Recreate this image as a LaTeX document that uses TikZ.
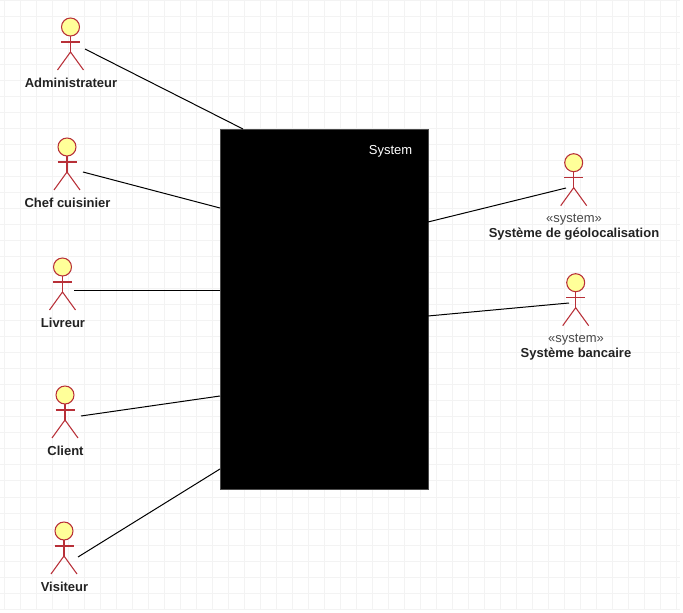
\documentclass[tikz,border=0pt]{standalone}
\usepackage{fontspec}
\setmainfont{Liberation Sans}
\usetikzlibrary{positioning}
\definecolor{actorRed}{RGB}{184, 48, 56}
\definecolor{actorFill}{RGB}{255, 255, 153}
\definecolor{gridGray}{RGB}{243, 243, 243}
\definecolor{labelDark}{RGB}{34, 34, 34}
\definecolor{stereoGray}{RGB}{72, 72, 72}
\tikzset{
    gridline/.style={gridGray, line width=0.75pt},
    link/.style={black, line width=0.75pt},
    actorline/.style={actorRed, line width=0.8pt},
    actorname/.style={font=\bfseries\fontsize{9.75}{11}\selectfont, text=labelDark, inner sep=0pt},
    stereotype/.style={font=\fontsize{9.75}{11}\selectfont, text=stereoGray, inner sep=0pt},
    systembox/.style={fill=black, draw=black!70, line width=0.5pt, inner sep=0pt, minimum width=156pt, minimum height=270pt},
    pics/actor/.style={code={
        \draw[actorline, fill=actorFill] (0,0) circle (9);
        \draw[actorline] (0,9)--(0,25);
        \draw[actorline] (-9.5,15)--(9.5,15);
        \draw[actorline] (-13,43)--(0,25)--(13,43);
    }}
}

\begin{document}
\begin{tikzpicture}[x=0.75pt, y=-0.75pt]
        \useasboundingbox (0,0) rectangle (683,613);
        
        % background grid
        \foreach \gx in {4,20,...,676} {\draw[gridline] (\gx,0)--(\gx,610);}
        \foreach \gy in {1,17,...,609} {\draw[gridline] (0,\gy)--(680,\gy);}
        
        % system
        \node[systembox] (system) at (324,309) {};
        \node[font=\fontsize{9.75}{11}\selectfont, text=white, inner sep=0pt] (systemname) at (390.5,151) {System};
        
        % actors on the left
        \pic at (70.5,27) {actor};
        \pic at (67,147) {actor};
        \pic at (62.5,267) {actor};
        \pic at (65,395) {actor};
        \pic at (64,531) {actor};
        \node[actorname] (admin) at (71,83) {Administrateur};
        \node[actorname] (chef) at (67.5,203) {Chef cuisinier};
        \node[actorname] (livreur) at (63,323) {Livreur};
        \node[actorname] (client) at (65.5,451) {Client};
        \node[actorname] (visiteur) at (64.5,587) {Visiteur};
        
        % actors on the right
        \pic at (573.7,162.7) {actor};
        \pic at (575.7,282.7) {actor};
        \node[stereotype] (geosys) at (574,220) {«system»};
        \node[actorname] (geo) at (574,234) {Système de géolocalisation};
        \node[stereotype] (banksys) at (576,340) {«system»};
        \node[actorname] (bank) at (576,354.5) {Système bancaire};
        
        % connector ends
        \coordinate (adminEnd) at (85,49);
        \coordinate (chefEnd) at (83,172);
        \coordinate (livreurEnd) at (74,291);
        \coordinate (clientEnd) at (81,416);
        \coordinate (visiteurEnd) at (78,557);
        \coordinate (geoEnd) at (566,188);
        \coordinate (bankEnd) at (569,303);
        \coordinate (sysAdmin) at (243,129);
        \coordinate (sysChef) at (220,208);
        \coordinate (sysLivreur) at (220,291);
        \coordinate (sysClient) at (220,396);
        \coordinate (sysVisiteur) at (220,469);
        \coordinate (sysGeo) at (428,222);
        \coordinate (sysBank) at (428,316);
        
        \draw[link] (adminEnd)--(sysAdmin);
        \draw[link] (chefEnd)--(sysChef);
        \draw[link] (livreurEnd)--(sysLivreur);
        \draw[link] (clientEnd)--(sysClient);
        \draw[link] (visiteurEnd)--(sysVisiteur);
        \draw[link] (geoEnd)--(sysGeo);
        \draw[link] (bankEnd)--(sysBank);
    \end{tikzpicture}
\end{document}
